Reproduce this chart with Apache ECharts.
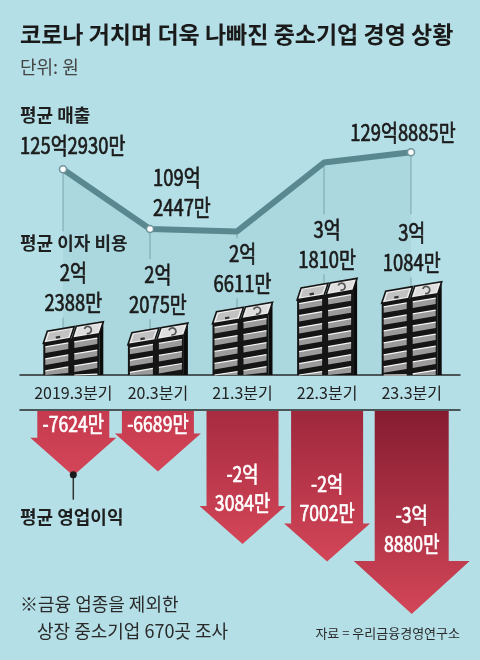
<!DOCTYPE html>
<html>
<head>
<meta charset="utf-8">
<script src="https://cdn.jsdelivr.net/npm/echarts@6/dist/echarts.min.js"></script>
<style>
    html, body { margin: 0; padding: 0; background: #b4dfe6; }
    #main { width: 480px; height: 660px; }
</style>
</head>
<body>
<div id="main"></div>
<script>
    // 단위: 만원
    var categories = ['2019.3분기', '20.3분기', '21.3분기', '22.3분기', '23.3분기'];
    var revenue = [1252930, 1092447, 1086000, 1271000, 1298885];   // 평균 매출 (21.3, 22.3 은 그림에서 추정)
    var interest = [22388, 22075, 26611, 31810, 31084];            // 평균 이자 비용
    var profit = [-7624, -6689, -23084, -27002, -38880];           // 평균 영업이익

    var FONT_K = "'Noto Sans CJK KR', sans-serif";
    var NARROW = 0.8;   // 숫자 라벨 가로 압축

    // 만원 -> "125억2930만"
    function fmt(v, wrap) {
        var sign = v < 0 ? '-' : '';
        v = Math.abs(v);
        var eok = Math.floor(v / 10000), man = v % 10000;
        if (!eok) return sign + man + '만';
        return sign + eok + '억' + (wrap ? '\n' : '') + (man ? man + '만' : '');
    }

    // 라벨이 붙는 매출 포인트와 라벨 위치 (포인트 기준)
    var revLabelLayout = {
        0: { align: 'left', dx: -43, dy: -24, wrap: false },
        1: { align: 'left', dx: 3, dy: -37, wrap: true },
        4: { align: 'center', dx: -8, dy: -20, wrap: false }
    };

    function mix(a, b, t) {
        var pa = [1, 3, 5].map(function (k) { return parseInt(a.substr(k, 2), 16); });
        var pb = [1, 3, 5].map(function (k) { return parseInt(b.substr(k, 2), 16); });
        return 'rgb(' + pa.map(function (c, k) { return Math.round(c + (pb[k] - c) * t); }).join(',') + ')';
    }

    function label(s, x, y, size, color, align, lh) {
        return {
            type: 'text', x: x, y: y, scaleX: NARROW,
            style: {
                text: s, font: size + 'px ' + FONT_K, fill: color, stroke: color, lineWidth: 0.7,
                align: align || 'center', verticalAlign: 'middle', lineHeight: lh || size
            }
        };
    }

    //매출 라벨
    function renderRevLabel(params, api) {
        var i = api.value(0);
        var lay = revLabelLayout[i];
        var p = api.coord([i, api.value(1)]);
        return label(fmt(api.value(1), lay.wrap), p[0] + lay.dx, p[1] + lay.dy, 23, '#1a1a1a', lay.align, 30);
    }

    //돈다발 그리기
    function renderStack(params, api) {
        var i = params.dataIndex;
        var v = api.value(1);
        var pt = api.coord([i, v]);
        var cs = params.coordSys;
        var base = cs.y + cs.height;
        var cx = pt[0], top = pt[1];
        var cw = 27, gap = 2, W = 2 * cw + gap;
        var s = 0.17, dx = 4, dy = 12, layerH = 12;
        var x0 = cx - 30;
        var yFR = top + dy;                 // 앞면 윗변 오른쪽 끝
        var yF = function (x) { return yFR + (x0 + W - x) * s; };
        var cl = function (y) { return Math.min(y, base); };
        var kids = [];

        // 몸통
        kids.push({ type: 'polygon', shape: { points: [[x0, yF(x0)], [x0 + W, yFR], [x0 + W, base], [x0, base]] }, style: { fill: '#151515' } });
        // 옆면
        kids.push({ type: 'polygon', shape: { points: [[x0 + W, yFR], [x0 + W + dx, yFR - dy], [x0 + W + dx, base], [x0 + W, base]] }, style: { fill: '#0c0c0c' } });

        for (var c = 0; c < 2; c++) {
            var xl = x0 + c * (cw + gap) + 2, xr = xl + cw - 4;
            for (var k = 0; ; k++) {
                var o = 4 + k * layerH;
                if (yF(xr) + o >= base) break;
                kids.push({
                    type: 'polygon',
                    shape: { points: [[xl, cl(yF(xl) + o)], [xr, cl(yF(xr) + o)], [xr, cl(yF(xr) + o + 6)], [xl, cl(yF(xl) + o + 6)]] },
                    style: { fill: '#9b9b9b' }
                });
                kids.push({ type: 'line', shape: { x1: xl, y1: cl(yF(xl) + o), x2: xr, y2: cl(yF(xr) + o) }, style: { stroke: '#f5f5f5', lineWidth: 1.2 } });
            }
        }

        // 윗면 (지폐)
        for (var c2 = 0; c2 < 2; c2++) {
            var xf = x0 + c2 * (cw + gap);
            var P = (function (xf) {
                return function (u, d) { var x = xf + u * cw; return [x + d * dx, yF(x) - d * dy]; };
            })(xf);
            kids.push({ type: 'polygon', shape: { points: [P(0, 0), P(1, 0), P(1, 1), P(0, 1)] }, style: { fill: '#ececec', stroke: '#151515', lineWidth: 1.6 } });
            kids.push({ type: 'polygon', shape: { points: [P(0.1, 0.18), P(0.9, 0.18), P(0.9, 0.82), P(0.1, 0.82)] }, style: { fill: c2 ? '#dedede' : '#c2c2c2' } });
            if (c2 === 0) {
                var a = P(0.42, 0.3), b = P(0.58, 0.3);
                kids.push({ type: 'line', shape: { x1: a[0], y1: a[1], x2: b[0], y2: b[1] }, style: { stroke: '#333', lineWidth: 2.2 } });
            } else {
                var m = P(0.5, 0.5);
                kids.push({ type: 'arc', shape: { cx: m[0], cy: m[1], r: 3.5, startAngle: -Math.PI * 0.9, endAngle: Math.PI * 0.6 }, style: { stroke: '#555', fill: null, lineWidth: 1.8 } });
            }
        }

        var eok = Math.floor(v / 10000), man = v % 10000;
        kids.push(label(eok + '억', cx, top - 49, 23, '#1a1a1a'));
        kids.push(label(man + '만', cx, top - 19, 23, '#1a1a1a'));
        return { type: 'group', children: kids };
    }

    //영업이익 화살표 그리기
    function renderArrow(params, api) {
        var i = params.dataIndex;
        var v = api.value(1);
        var tip = api.coord([i, v]);
        var cx = tip[0], ty = tip[1];
        var y0 = params.coordSys.y;
        var last = i === params.dataInsideLength - 1;
        var sw = last ? 37 : 36, hw = last ? 58 : 43, hh = last ? 53 : 38;
        var len = ty - y0;
        var t = Math.max(0, Math.min(1, (len - 70) / 130));
        var kids = [];
        kids.push({
            type: 'polygon',
            shape: { points: [[cx - sw, y0], [cx + sw, y0], [cx + sw, ty - hh], [cx + hw, ty - hh], [cx, ty], [cx - hw, ty - hh], [cx - sw, ty - hh]] },
            style: {
                fill: new echarts.graphic.LinearGradient(0, 0, 0, 1, [
                    { offset: 0, color: mix('#c63a4f', '#861c31', t) },
                    { offset: 1, color: '#d34658' }
                ])
            }
        });
        if (Math.abs(v) < 10000) {
            kids.push(label(fmt(v), cx, y0 + 13, 22, '#fff'));
        } else {
            kids.push(label(fmt(v, true), cx, y0 + len * 0.58, 22, '#fff', 'center', 29));
        }
        if (i === 0) {
            kids.push({ type: 'line', shape: { x1: cx, y1: ty, x2: cx, y2: ty + 24 }, style: { stroke: '#333', lineWidth: 1.5 } });
            kids.push({ type: 'circle', shape: { cx: cx, cy: ty - 1, r: 3.5 }, style: { fill: '#1a1a1a' } });
        }
        return { type: 'group', children: kids };
    }

    var lineData = revenue.map(function (v, i) {
        return { value: v, symbol: revLabelLayout[i] ? 'circle' : 'none' };
    });
    var revLabelData = [];
    revenue.forEach(function (v, i) { if (revLabelLayout[i]) revLabelData.push([i, v]); });

    var hide = { show: false };
    var chart = echarts.init(document.getElementById('main'));
    var option = {
        backgroundColor: '#b4dfe6',
        animation: false,
        grid: [
            { left: 63, right: 69, top: 96, height: 279 },
            { left: 31, right: 26, top: 237, height: 138 },
            { left: 31, right: 26, top: 411, height: 230 },
            { left: 20, right: 20, top: 375, height: 35 }
        ],
        xAxis: [
            { gridIndex: 0, type: 'category', boundaryGap: false, data: categories, show: false },
            {
                gridIndex: 1, type: 'category', data: categories,
                axisLine: hide, axisTick: hide,
                axisLabel: { interval: 0, margin: 10, fontSize: 16, fontFamily: FONT_K, color: '#222' }
            },
            { gridIndex: 2, type: 'category', data: categories, show: false },
            { gridIndex: 3, type: 'value', position: 'top', axisLine: { show: true, onZero: false, lineStyle: { color: '#2a2a2a', width: 1.5 } }, axisTick: hide, axisLabel: hide, splitLine: hide },
            { gridIndex: 3, type: 'value', position: 'bottom', axisLine: { show: true, onZero: false, lineStyle: { color: '#2a2a2a', width: 1.5 } }, axisTick: hide, axisLabel: hide, splitLine: hide }
        ],
        yAxis: [
            { gridIndex: 0, type: 'value', min: 700000, max: 1450000, show: false },
            { gridIndex: 1, type: 'value', min: 10800, max: 40800, show: false },
            { gridIndex: 2, type: 'value', min: -45000, max: 7000, show: false },
            { gridIndex: 3, type: 'value', show: false }
        ],
        series: [
            {
                name: '평균 매출',
                type: 'line',
                xAxisIndex: 0, yAxisIndex: 0,
                data: lineData,
                showSymbol: true,
                symbolSize: 7,
                lineStyle: { color: '#5a8890', width: 6 },
                itemStyle: { color: '#fff', borderColor: '#6f959c', borderWidth: 1.5 },
                areaStyle: { color: 'rgba(60,115,125,0.1)', origin: 'start' },
                z: 3
            },
            {
                name: '평균 매출 라벨',
                type: 'custom',
                xAxisIndex: 0, yAxisIndex: 0,
                data: revLabelData,
                renderItem: renderRevLabel,
                z: 5
            },
            {
                name: '평균 이자 비용',
                type: 'custom',
                xAxisIndex: 1, yAxisIndex: 1,
                data: interest.map(function (v, i) { return [i, v]; }),
                renderItem: renderStack,
                z: 4
            },
            {
                name: '평균 영업이익',
                type: 'custom',
                xAxisIndex: 2, yAxisIndex: 2,
                data: profit.map(function (v, i) { return [i, v]; }),
                renderItem: renderArrow,
                z: 4
            }
        ]
    };
    chart.setOption(option, true);

    //고정 글자 + 매출 포인트에서 내려오는 보조선
    function txt(s, x, y, font, color, align) {
        return { type: 'text', x: x, y: y, silent: true, style: { text: s, font: font, fill: color, align: align || 'left', verticalAlign: 'middle' } };
    }
    var graphics = [
        txt('코로나 거치며 더욱 나빠진 중소기업 경영 상황', 20, 34, 'bold 23px ' + FONT_K, '#1a1a1a'),
        txt('단위: 원', 20, 67, '18px ' + FONT_K, '#444'),
        txt('평균 매출', 20, 115, 'bold 18px ' + FONT_K, '#1e1e1e'),
        txt('평균 이자 비용', 20, 243, 'bold 18px ' + FONT_K, '#1e1e1e'),
        txt('평균 영업이익', 20, 517, 'bold 18px ' + FONT_K, '#1e1e1e'),
        txt('※금융 업종을 제외한', 20, 604, '18px ' + FONT_K, '#2a2a2a'),
        txt('상장 중소기업 670곳 조사', 37, 631, '18px ' + FONT_K, '#2a2a2a'),
        txt('자료 = 우리금융경영연구소', 460, 633, '13px ' + FONT_K, '#2a2a2a', 'right')
    ];
    for (var i = 0; i < revenue.length; i++) {
        var p = chart.convertToPixel({ xAxisIndex: 0, yAxisIndex: 0 }, [i, revenue[i]]);
        var q = chart.convertToPixel({ xAxisIndex: 1, yAxisIndex: 1 }, [i, interest[i]]);
        var y2 = Math.min(q[1] - 64, p[1] + 62);
        graphics.push({ type: 'line', silent: true, shape: { x1: p[0], y1: p[1], x2: p[0], y2: y2 }, style: { stroke: '#80a8af', lineWidth: 1 } });
        graphics.push({ type: 'line', silent: true, shape: { x1: p[0], y1: q[1] - 4, x2: p[0], y2: q[1] + 14 }, style: { stroke: '#80a8af', lineWidth: 1 } });
    }
    chart.setOption({ graphic: graphics });
</script>
</body>
</html>
